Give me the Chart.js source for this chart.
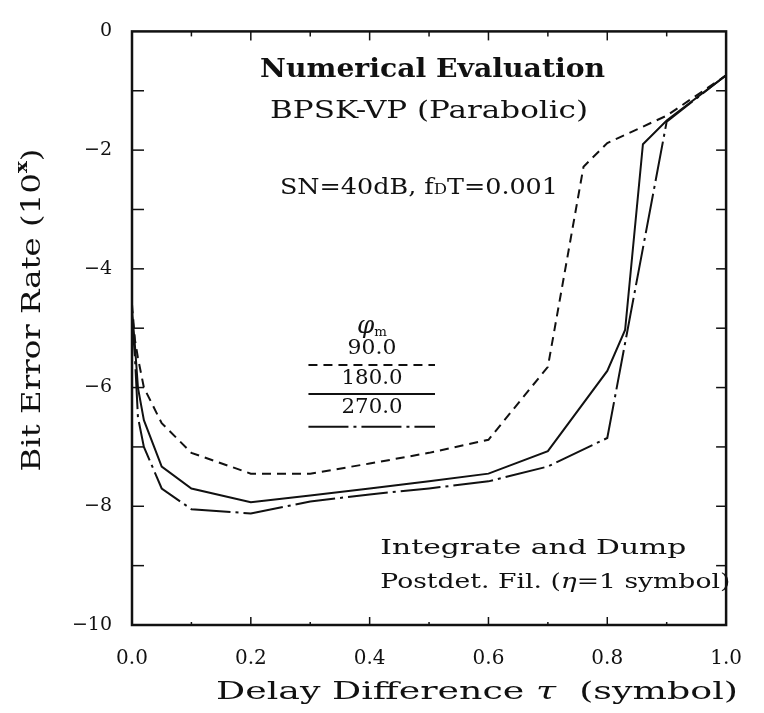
<!DOCTYPE html>
<html>
<head>
<meta charset="utf-8">
<script src="https://cdn.jsdelivr.net/npm/chart.js@4.4.1/dist/chart.umd.min.js"></script>
<style>
  html, body { margin: 0; padding: 0; background: #fff; }
  canvas { display: block; }
</style>
</head>
<body>
<canvas id="myChart" width="764" height="713"></canvas>
<script>
// delay difference tau (symbol) and BER exponent, one pair per phi_m
const tau90  = [0, 0.005, 0.01, 0.02, 0.05, 0.1, 0.2, 0.3, 0.4, 0.5, 0.6, 0.7, 0.76, 0.8, 0.9, 1.0];
const ber90  = [-4.6, -5.2, -5.5, -6.0, -6.6, -7.1, -7.45, -7.45, -7.28, -7.1, -6.88, -5.65, -2.28, -1.88, -1.42, -0.74];
const tau180 = [0, 0.005, 0.01, 0.02, 0.05, 0.1, 0.2, 0.3, 0.4, 0.5, 0.6, 0.7, 0.8, 0.83, 0.86, 0.9, 1.0];
const ber180 = [-4.7, -5.3, -6.0, -6.55, -7.33, -7.7, -7.93, -7.82, -7.7, -7.58, -7.45, -7.07, -5.72, -5.03, -1.9, -1.5, -0.74];
const tau270 = [0, 0.005, 0.01, 0.02, 0.05, 0.1, 0.2, 0.3, 0.4, 0.5, 0.6, 0.7, 0.8, 0.9, 1.0];
const ber270 = [-4.8, -5.5, -6.5, -7.0, -7.7, -8.05, -8.12, -7.92, -7.8, -7.7, -7.58, -7.33, -6.85, -1.52, -0.74];

const phiLabels = ["90.0", "180.0", "270.0"];
const xTickLabels = ["0.0", "0.2", "0.4", "0.6", "0.8", "1.0"];
const yTickLabels = ["\u221210", "\u22128", "\u22126", "\u22124", "\u22122", "0"];

const ink = "#111";
const serif = "'DejaVu Serif', 'Liberation Serif', serif";
const dashes = [[9, 6], [], [40, 5, 3, 5]];

function pts(xs, ys) {
    return xs.map((v, i) => ({ x: v, y: ys[i] }));
}

// draws a list of text pieces squeezed/stretched to a given width
function fitText(ctx, parts, x, y, width, align) {
    let natural = 0;
    parts.forEach(p => { ctx.font = p.font; natural += ctx.measureText(p.t).width; });
    const s = width / natural;
    ctx.save();
    ctx.translate(x, y);
    ctx.scale(s, 1);
    let cx = align === "left" ? 0 : -natural / 2;
    ctx.textBaseline = "middle";
    ctx.textAlign = "left";
    parts.forEach(p => {
        ctx.font = p.font;
        ctx.fillText(p.t, cx, p.dy || 0);
        cx += ctx.measureText(p.t).width;
    });
    ctx.restore();
}

const decor = {
    id: "decor",
    afterDraw(chart) {
        const { ctx, chartArea: a } = chart;
        const x = chart.scales.x, y = chart.scales.y;
        const px = v => x.getPixelForValue(v);
        const py = v => y.getPixelForValue(v);
        const line = (x1, y1, x2, y2) => { ctx.beginPath(); ctx.moveTo(x1, y1); ctx.lineTo(x2, y2); ctx.stroke(); };

        ctx.save();
        ctx.strokeStyle = ink;
        ctx.fillStyle = ink;

        // frame
        ctx.lineWidth = 2.5;
        ctx.strokeRect(a.left, a.top, a.right - a.left, a.bottom - a.top);

        // inward ticks
        ctx.lineWidth = 1.5;
        for (let i = 1; i < 10; i++) {
            const major = i % 2 === 0;
            line(px(i / 10), a.top, px(i / 10), a.top + (major ? 9 : 5));
            line(px(i / 10), a.bottom, px(i / 10), a.bottom - (major ? 8 : 3));
        }
        for (let v = -9; v <= -1; v++) {
            line(a.left, py(v), a.left + 12, py(v));
            line(a.right, py(v), a.right - 10, py(v));
        }

        // annotations
        fitText(ctx, [{ t: "Numerical Evaluation", font: "bold 26px " + serif }], px(0.506), py(-0.66), 345);
        fitText(ctx, [{ t: "BPSK-VP (Parabolic)", font: "24px " + serif }], px(0.5), py(-1.35), 318);
        fitText(ctx, [
            { t: "SN=40dB, f", font: "23px " + serif },
            { t: "D", font: "15px " + serif, dy: 2 },
            { t: "T=0.001", font: "23px " + serif }
        ], px(0.483), py(-2.64), 278);
        fitText(ctx, [{ t: "Integrate and Dump", font: "21px " + serif }], px(0.418), py(-8.71), 306, "left");
        fitText(ctx, [
            { t: "Postdet. Fil. (", font: "21px " + serif },
            { t: "\u03b7", font: "italic 21px " + serif },
            { t: "=1 symbol)", font: "21px " + serif }
        ], px(0.418), py(-9.29), 350, "left");

        // legend
        fitText(ctx, [
            { t: "\u03c6", font: "italic 24px " + serif },
            { t: "m", font: "13px " + serif, dy: 6 }
        ], px(0.404), py(-4.98), 30);
        const labY = [-5.35, -5.85, -6.34];
        const linY = [-5.62, -6.11, -6.66];
        phiLabels.forEach((lab, i) => {
            fitText(ctx, [{ t: lab, font: "20px " + serif }], px(0.404), py(labY[i]), lab.length * 12.2);
            ctx.setLineDash(dashes[i]);
            ctx.lineWidth = 2;
            line(px(0.297), py(linY[i]), px(0.51), py(linY[i]));
        });
        ctx.setLineDash([]);

        // axis titles
        fitText(ctx, [
            { t: "Delay Difference ", font: "25px " + serif },
            { t: "\u03c4", font: "italic 25px " + serif },
            { t: "  (symbol)", font: "25px " + serif }
        ], 477, 692, 522);

        ctx.save();
        ctx.translate(33, 310);
        ctx.rotate(-Math.PI / 2);
        fitText(ctx, [
            { t: "Bit Error Rate (10", font: "26px " + serif },
            { t: "x", font: "bold 16px " + serif, dy: -10 },
            { t: ")", font: "26px " + serif }
        ], 0, 0, 323);
        ctx.restore();

        ctx.restore();
    }
};

const ctx = document.getElementById("myChart");
const myChart = new Chart(ctx, {
    type: "scatter",
    data: {
        datasets: [
            { label: phiLabels[0], data: pts(tau90, ber90), borderDash: dashes[0] },
            { label: phiLabels[1], data: pts(tau180, ber180), borderDash: dashes[1] },
            { label: phiLabels[2], data: pts(tau270, ber270), borderDash: dashes[2] }
        ].map(d => Object.assign(d, {
            showLine: true,
            borderColor: ink,
            borderWidth: 2,
            pointRadius: 0,
            tension: 0,
            fill: false
        }))
    },
    options: {
        responsive: false,
        animation: false,
        devicePixelRatio: 1,
        layout: { padding: { top: 18, right: 23, left: 0, bottom: 0 } },
        plugins: {
            legend: { display: false },
            tooltip: { enabled: false }
        },
        scales: {
            x: {
                type: "linear",
                min: 0,
                max: 1,
                grid: { display: false, drawTicks: false },
                border: { display: false },
                ticks: {
                    stepSize: 0.2,
                    padding: 22,
                    color: ink,
                    font: { family: serif, size: 20 },
                    callback: (v, i) => xTickLabels[i]
                },
                afterFit: s => { s.height = 88; }
            },
            y: {
                type: "linear",
                min: -10,
                max: 0,
                grid: { display: false, drawTicks: false },
                border: { display: false },
                ticks: {
                    stepSize: 2,
                    padding: 20,
                    color: ink,
                    font: { family: serif, size: 19 },
                    callback: (v, i) => yTickLabels[i]
                },
                afterFit: s => { s.width = 132; }
            }
        }
    },
    plugins: [decor]
});
</script>
</body>
</html>
